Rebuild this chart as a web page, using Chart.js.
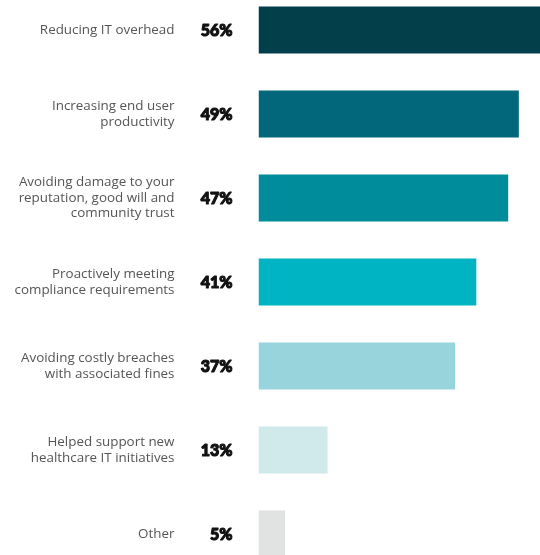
<!DOCTYPE html>
<html>
<head>
<meta charset="utf-8">
<script src="https://cdn.jsdelivr.net/npm/chart.js@4/dist/chart.umd.min.js"></script>
<style>
  html, body { margin: 0; padding: 0; width: 540px; height: 555px; overflow: hidden; background: #fff; }
  /* chart is a bit larger than the window: top/bottom bars and the 56% bar run off the edge */
  #wrap { position: absolute; left: 0; top: -12.5px; width: 556px; height: 588px; }
</style>
</head>
<body>
<div id="wrap"><canvas id="chart"></canvas></div>
<script>
// --- Chart data ---
const categories = [
  ['Reducing IT overhead'],
  ['Increasing end user', 'productivity'],
  ['Avoiding damage to your', 'reputation, good will and', 'community trust'],
  ['Proactively meeting', 'compliance requirements'],
  ['Avoiding costly breaches', 'with associated fines'],
  ['Helped support new', 'healthcare IT initiatives'],
  ['Other']
];
const values = [56, 49, 47, 41, 37, 13, 5];
const barColors = ['#033e4b', '#02677b', '#008c9b', '#00b4c3', '#98d4dc', '#d0e9eb', '#e1e2e2'];

// draws the heavy percentage next to each bar
const valueLabels = {
  id: 'valueLabels',
  afterDatasetsDraw(chart) {
    const ctx = chart.ctx;
    const meta = chart.getDatasetMeta(0);
    ctx.save();
    ctx.font = '900 16px Lato, "Open Sans", sans-serif';
    ctx.fillStyle = '#111';
    ctx.strokeStyle = '#111';
    ctx.lineWidth = 1.1;
    ctx.lineJoin = 'round';
    ctx.textAlign = 'right';
    ctx.textBaseline = 'middle';
    meta.data.forEach(function(bar, i) {
      const x = chart.chartArea.left - 26;
      ctx.strokeText(values[i] + '%', x, bar.y + 1);
      ctx.fillText(values[i] + '%', x, bar.y + 1);
    });
    ctx.restore();
  }
};

document.addEventListener('DOMContentLoaded', function() {
  const ctx = document.getElementById('chart').getContext('2d');
  new Chart(ctx, {
    type: 'bar',
    data: {
      labels: categories,
      datasets: [{
        data: values,
        backgroundColor: barColors,
        borderWidth: 0,
        categoryPercentage: 1,
        barPercentage: 0.56
      }]
    },
    options: {
      indexAxis: 'y',
      responsive: true,
      maintainAspectRatio: false,
      animation: false,
      layout: {padding: 0},
      plugins: {legend: {display: false}, tooltip: {enabled: false}},
      scales: {
        x: {display: false, min: 0, max: 56},
        y: {
          grid: {display: false, drawTicks: false},
          border: {display: false},
          ticks: {
            padding: 84,
            color: '#555',
            font: {family: '"Open Sans", sans-serif', size: 13.4, lineHeight: 1.15}
          },
          afterFit: function(scale) {
            // tick padding also pads top/bottom on vertical axes; drop that
            scale.width = 258.5;
            scale.paddingTop = 0;
            scale.paddingBottom = 0;
          }
        }
      }
    },
    plugins: [valueLabels]
  });
});
</script>
</body>
</html>
